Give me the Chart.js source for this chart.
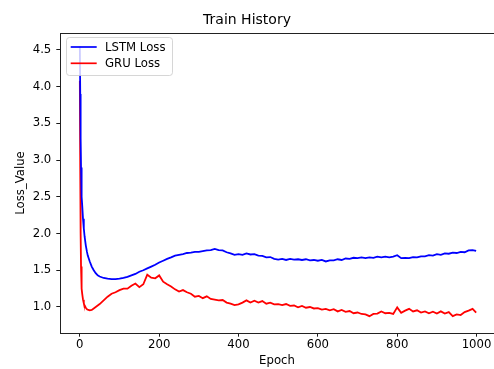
<!DOCTYPE html>
<html>
<head>
<meta charset="utf-8">
<script src="https://cdn.jsdelivr.net/npm/chart.js@4.4.0/dist/chart.umd.min.js"></script>
<style>
  html, body { margin: 0; padding: 0; background: #fff; }
</style>
</head>
<body>
<canvas id="lossChart" width="494" height="369"></canvas>
<script>
const epochs = [0, 1, 2, 3, 4, 5, 6, 8, 10, 12, 15, 18, 20, 25, 30, 35, 40, 45, 50,
  60, 70, 80, 90, 100, 110, 120, 130, 140, 150, 160, 170, 180, 190, 200,
  210, 220, 230, 240, 250, 260, 270, 280, 290, 300, 310, 320, 330, 340, 350,
  360, 370, 380, 390, 400, 410, 420, 430, 440, 450, 460, 470, 480, 490, 500,
  510, 520, 530, 540, 550, 560, 570, 580, 590, 600, 610, 620, 630, 640, 650,
  660, 670, 680, 690, 700, 710, 720, 730, 740, 750, 760, 770, 780, 790, 800,
  810, 820, 830, 840, 850, 860, 870, 880, 890, 900, 910, 920, 930, 940, 950,
  960, 970, 980, 990, 999];

const lstmLoss = [4.55, 3.90, 3.30, 2.90, 2.65, 2.50, 2.38, 2.20, 2.07, 1.96, 1.84, 1.75, 1.70, 1.62, 1.55, 1.50, 1.46, 1.43, 1.415,
  1.395, 1.385, 1.38, 1.38, 1.385, 1.395, 1.41, 1.43, 1.45, 1.48, 1.50, 1.525, 1.55, 1.575, 1.605,
  1.63, 1.655, 1.675, 1.70, 1.71, 1.72, 1.735, 1.74, 1.75, 1.75, 1.76, 1.77, 1.775, 1.79, 1.775,
  1.77, 1.745, 1.73, 1.71, 1.72, 1.71, 1.73, 1.715, 1.72, 1.70, 1.695, 1.675, 1.68, 1.655, 1.645,
  1.655, 1.64, 1.655, 1.645, 1.65, 1.64, 1.65, 1.635, 1.64, 1.63, 1.64, 1.62, 1.635, 1.635, 1.65,
  1.64, 1.66, 1.655, 1.67, 1.665, 1.675, 1.665, 1.675, 1.67, 1.685, 1.675, 1.685, 1.675, 1.685, 1.705,
  1.665, 1.67, 1.665, 1.68, 1.675, 1.69, 1.69, 1.705, 1.70, 1.72, 1.71, 1.73, 1.725, 1.74, 1.735,
  1.75, 1.745, 1.77, 1.775, 1.765];

const gruLoss = [4.08, 2.90, 2.00, 1.55, 1.35, 1.25, 1.18, 1.10, 1.05, 1.02, 0.99, 0.97, 0.965, 0.955, 0.96, 0.98, 1.00, 1.02, 1.04,
  1.09, 1.14, 1.18, 1.20, 1.23, 1.25, 1.25, 1.29, 1.32, 1.27, 1.31, 1.44, 1.40, 1.39, 1.43,
  1.345, 1.31, 1.28, 1.24, 1.21, 1.23, 1.20, 1.18, 1.14, 1.15, 1.12, 1.145, 1.11, 1.10, 1.09,
  1.095, 1.06, 1.045, 1.025, 1.035, 1.06, 1.09, 1.06, 1.085, 1.06, 1.08, 1.045, 1.06, 1.035, 1.04,
  1.025, 1.04, 1.015, 1.02, 0.995, 1.015, 0.99, 1.00, 0.98, 0.985, 0.965, 0.975, 0.955, 0.97, 0.94,
  0.96, 0.935, 0.945, 0.915, 0.925, 0.905, 0.90, 0.875, 0.905, 0.91, 0.94, 0.915, 0.92, 0.905, 0.995,
  0.92, 0.95, 0.975, 0.94, 0.955, 0.925, 0.94, 0.915, 0.935, 0.91, 0.94, 0.91, 0.93, 0.875, 0.90,
  0.89, 0.93, 0.95, 0.975, 0.925];

const xTicks = [0, 200, 400, 600, 800, 1000];
const yTicks = [1.0, 1.5, 2.0, 2.5, 3.0, 3.5, 4.0, 4.5];

const FONT = '"DejaVu Sans", sans-serif';
const TEXT_SIZE = 11.7;

// legend box in the upper left + top spine, drawn like matplotlib does
const boxLegend = {
    id: 'boxLegend',
    afterDraw(chart) {
        const ctx = chart.ctx;
        const a = chart.chartArea;
        ctx.save();

        ctx.strokeStyle = '#222';
        ctx.lineWidth = 1;
        ctx.beginPath();
        ctx.moveTo(a.left, a.top + 0.5);
        ctx.lineTo(a.right, a.top + 0.5);
        ctx.stroke();

        ctx.beginPath();
        ctx.roundRect(a.left + 6.5, a.top + 4.5, 106, 38, 3);
        ctx.fillStyle = 'rgba(255,255,255,0.8)';
        ctx.fill();
        ctx.strokeStyle = 'rgba(204,204,204,0.8)';
        ctx.stroke();

        chart.data.datasets.forEach((ds, i) => {
            const ly = a.top + 14 + i * 16.3;
            ctx.strokeStyle = ds.borderColor;
            ctx.lineWidth = 1.7;
            ctx.beginPath();
            ctx.moveTo(a.left + 10.7, ly);
            ctx.lineTo(a.left + 36.7, ly);
            ctx.stroke();
            ctx.fillStyle = '#000';
            ctx.font = TEXT_SIZE + 'px ' + FONT;
            ctx.textBaseline = 'middle';
            ctx.fillText(ds.label, a.left + 45, ly + 0.5);
        });
        ctx.restore();
    }
};

const ctx = document.getElementById('lossChart').getContext('2d');
new Chart(ctx, {
    type: 'line',
    data: {
        datasets: [{
            label: 'LSTM Loss',
            data: epochs.map((e, i) => ({ x: e, y: lstmLoss[i] })),
            borderColor: '#0000ff',
            borderWidth: 1.8,
            pointRadius: 0,
            fill: false
        }, {
            label: 'GRU Loss',
            data: epochs.map((e, i) => ({ x: e, y: gruLoss[i] })),
            borderColor: '#ff0000',
            borderWidth: 1.8,
            pointRadius: 0,
            fill: false
        }]
    },
    options: {
        responsive: false,
        animation: false,
        layout: { padding: 0 },
        plugins: {
            legend: { display: false },
            tooltip: { enabled: false },
            title: {
                display: true,
                text: 'Train History',
                color: '#000',
                font: { family: FONT, size: 14, weight: 'normal' },
                padding: { top: 12, bottom: 4.2 }
            }
        },
        scales: {
            x: {
                type: 'linear',
                min: -50,
                max: 1044,
                afterBuildTicks: axis => { axis.ticks = xTicks.map(v => ({ value: v })); },
                afterFit: axis => { axis.height = 36; },
                grid: { drawOnChartArea: false, color: '#000', tickLength: 3.7, tickWidth: 0.9 },
                border: { color: '#222', width: 1 },
                ticks: { color: '#000', font: { family: FONT, size: TEXT_SIZE }, padding: 1, maxRotation: 0,
                    callback: v => String(v) },
                title: { display: true, text: 'Epoch', color: '#000',
                    font: { family: FONT, size: TEXT_SIZE }, padding: { top: 0, bottom: 1 } }
            },
            y: {
                min: 0.646,
                max: 4.73,
                afterBuildTicks: axis => { axis.ticks = yTicks.map(v => ({ value: v })); },
                afterFit: axis => { axis.width = 60; },
                grid: { drawOnChartArea: false, color: '#000', tickLength: 3.7, tickWidth: 0.9 },
                border: { color: '#222', width: 1 },
                ticks: { color: '#000', font: { family: FONT, size: TEXT_SIZE }, padding: 5,
                    callback: v => v.toFixed(1) },
                title: { display: true, text: 'Loss_Value', color: '#000',
                    font: { family: FONT, size: TEXT_SIZE }, padding: { top: 14, bottom: 4 } }
            }
        }
    },
    plugins: [boxLegend]
});
</script>
</body>
</html>
